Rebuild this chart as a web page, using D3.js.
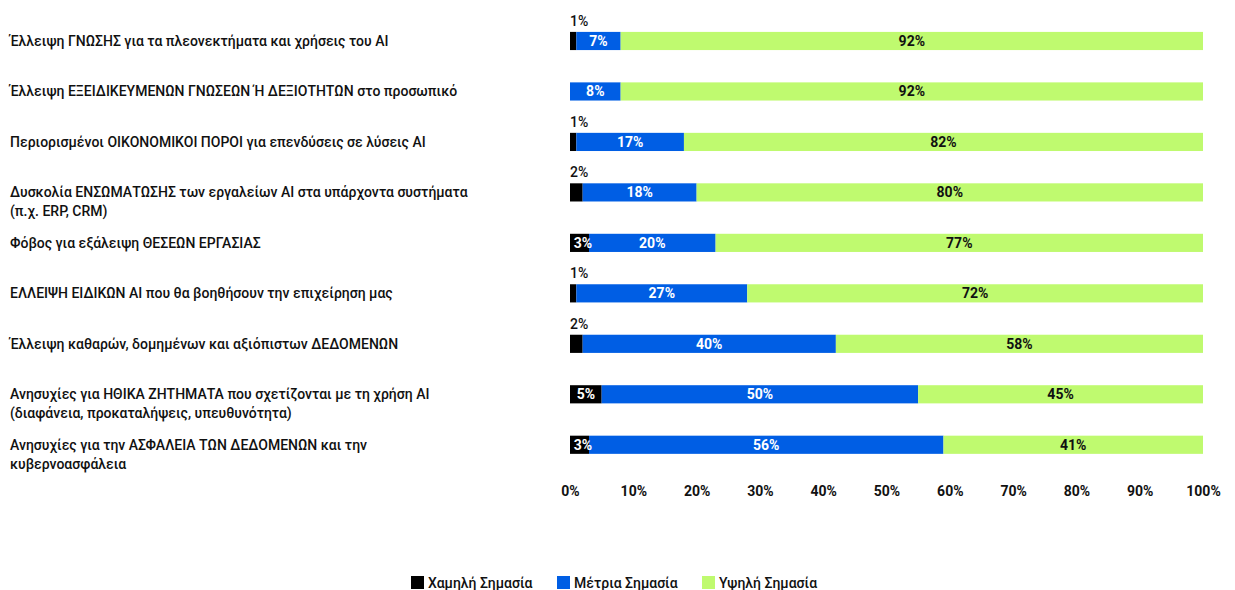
<!DOCTYPE html>
<html>
<head>
<meta charset="utf-8">
<script src="https://cdn.jsdelivr.net/npm/d3@7"></script>
<style>
  body { margin: 0; background: #fff; }
  text { font-family: Roboto, "Noto Sans", sans-serif; }
</style>
</head>
<body>
<div id="chart"></div>
<script>
const categories = [
  "Έλλειψη ΓΝΩΣΗΣ για τα πλεονεκτήματα και χρήσεις του AI",
  "Έλλειψη ΕΞΕΙΔΙΚΕΥΜΕΝΩΝ ΓΝΩΣΕΩΝ Ή ΔΕΞΙΟΤΗΤΩΝ στο προσωπικό",
  "Περιορισμένοι ΟΙΚΟΝΟΜΙΚΟΙ ΠΟΡΟΙ για επενδύσεις σε λύσεις AI",
  "Δυσκολία ΕΝΣΩΜΑΤΩΣΗΣ των εργαλείων AI στα υπάρχοντα συστήματα\n(π.χ. ERP, CRM)",
  "Φόβος για εξάλειψη ΘΕΣΕΩΝ ΕΡΓΑΣΙΑΣ",
  "ΕΛΛΕΙΨΗ ΕΙΔΙΚΩΝ AI που θα βοηθήσουν την επιχείρηση μας",
  "Έλλειψη καθαρών, δομημένων και αξιόπιστων ΔΕΔΟΜΕΝΩΝ",
  "Ανησυχίες για ΗΘΙΚΑ ΖΗΤΗΜΑΤΑ που σχετίζονται με τη χρήση AI\n(διαφάνεια, προκαταλήψεις, υπευθυνότητα)",
  "Ανησυχίες για την ΑΣΦΑΛΕΙΑ ΤΩΝ ΔΕΔΟΜΕΝΩΝ και την\nκυβερνοασφάλεια"
]
const lowValues = [1, 0, 1, 2, 3, 1, 2, 5, 3]
const mediumValues = [7, 8, 17, 18, 20, 27, 40, 50, 56]
const highValues = [92, 92, 82, 80, 77, 72, 58, 45, 41]
const seriesNames = ["Χαμηλή Σημασία", "Μέτρια Σημασία", "Υψηλή Σημασία"]
const tickValues = [0, 10, 20, 30, 40, 50, 60, 70, 80, 90, 100]

const colors = ["#000000", "#005ee4", "#bffa6f"]

const width = 1235
const height = 590

const rows = categories.map((c, i) => ({
  cat: c, low: lowValues[i], medium: mediumValues[i], high: highValues[i]
}))
const keys = ["low", "medium", "high"]
const stacked = d3.stack().keys(keys)(rows)

const x = d3.scaleLinear().domain([0, 100]).range([570, 1203])
const y = d3.scaleBand().domain(categories).range([15.75, 470]).paddingInner(0.64).paddingOuter(0.32)

const svg = d3.select("#chart")
  .append("svg")
    .attr("width", width)
    .attr("height", height)

// category labels
const labels = svg.append("g")
  .selectAll("text")
  .data(categories)
  .join("text")
    .attr("x", 10)
    .attr("y", d => y(d) + y.bandwidth() / 2)
    .attr("font-size", 14)
    .attr("font-weight", 500)
    .attr("fill", "#111")

labels.selectAll("tspan")
  .data(d => d.split("\n"))
  .join("tspan")
    .attr("x", 10)
    .attr("dy", (d, i) => i == 0 ? "0.35em" : "1.35em")
    .text(d => d)

// bars
const layer = svg.append("g")
  .selectAll("g")
  .data(stacked)
  .join("g")
    .attr("fill", (d, i) => colors[i])

layer.selectAll("rect")
  .data(d => d.filter(s => s[1] - s[0] > 0))
  .join("rect")
    .attr("x", d => x(d[0]))
    .attr("y", d => y(d.data.cat))
    .attr("width", d => x(d[1]) - x(d[0]))
    .attr("height", y.bandwidth())

// value labels
const valueLabels = svg.append("g")
  .attr("font-size", 14)
  .attr("font-weight", 700)

stacked.forEach((series, si) => {
  series.forEach(s => {
    const v = s[1] - s[0]
    if (v <= 0) return
    const x0 = x(s[0]), x1 = x(s[1])
    const cy = y(s.data.cat) + y.bandwidth() / 2
    if (si == 0 && v < 3) {
      valueLabels.append("text")
        .attr("x", x0)
        .attr("y", y(s.data.cat) - 6)
        .attr("fill", "#111")
        .attr("font-weight", 500)
        .text(v + "%")
    } else {
      valueLabels.append("text")
        .attr("x", si == 0 ? Math.max((x0 + x1) / 2, x0 + 13) : (x0 + x1) / 2)
        .attr("y", cy)
        .attr("dy", "0.36em")
        .attr("text-anchor", "middle")
        .attr("fill", si == 2 ? "#111" : "#fff")
        .text(v + "%")
    }
  })
})

// x axis
const xAxis = svg.append("g")
  .attr("transform", "translate(0,477)")
  .call(d3.axisBottom(x).tickValues(tickValues).tickSize(0).tickPadding(9).tickFormat(d => d + "%"))

xAxis.select(".domain").remove()
xAxis.selectAll("text")
  .style("font-family", "Roboto, sans-serif")
  .attr("font-size", 14)
  .attr("font-weight", 700)
  .attr("fill", "#111")

// legend
const legendX = [411, 557, 702]
const legend = svg.append("g")
  .selectAll("g")
  .data(seriesNames)
  .join("g")
    .attr("transform", (d, i) => `translate(${legendX[i]},576)`)

legend.append("rect")
  .attr("width", 13)
  .attr("height", 13)
  .attr("fill", (d, i) => colors[i])

legend.append("text")
  .attr("x", 17)
  .attr("y", 6.5)
  .attr("dy", "0.36em")
  .attr("font-size", 14)
  .attr("font-weight", 500)
  .attr("fill", "#111")
  .text(d => d)
</script>
</body>
</html>
